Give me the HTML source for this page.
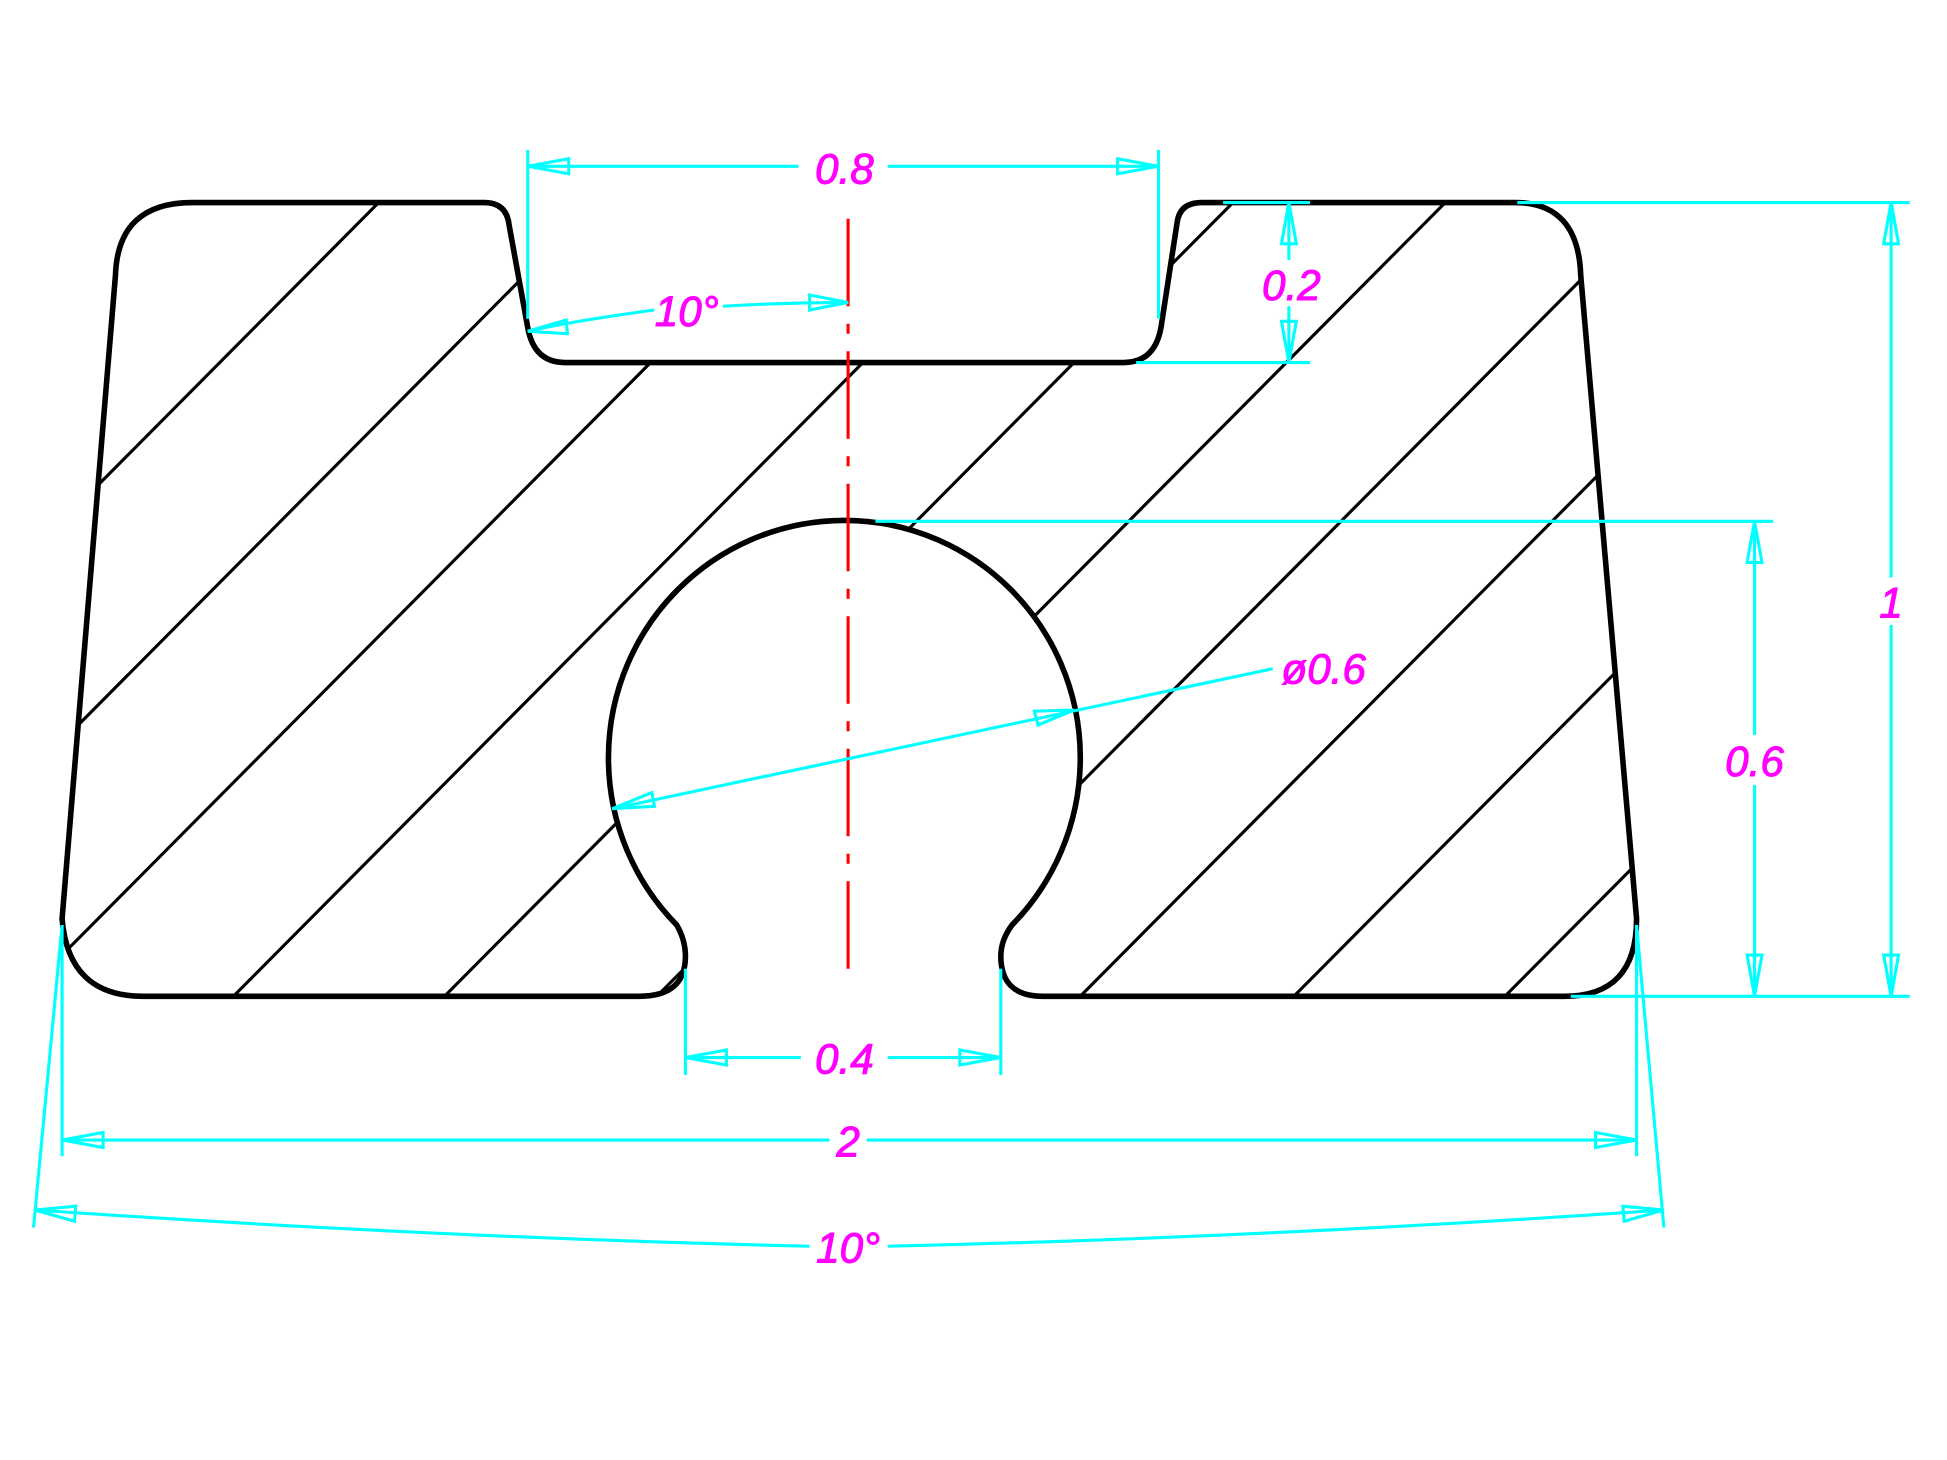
<!DOCTYPE html>
<html><head><meta charset="utf-8"><style>
html,body{margin:0;padding:0;background:#fff;width:1947px;height:1460px;overflow:hidden;position:relative;}
svg{display:block;position:absolute;left:0;top:0;}
text{font-family:"Liberation Sans",sans-serif;font-style:italic;fill:#ff00ff;stroke:#ff00ff;stroke-width:0.8;font-size:34px;text-anchor:middle;}
</style></head><body>
<svg width="1947" height="1460" viewBox="0 0 1568 1168" preserveAspectRatio="none" xmlns="http://www.w3.org/2000/svg">
<defs>
<clipPath id="cp"><path id="sh" d="M115 797 L515 797 Q552 797 552 765 Q552 752 545 740 A190 190 0 1 1 815 740 Q806 752 806 765 Q806 797 840 797 L1260 797 Q1318 797 1318 735 L1273 220 Q1271 162 1220 162 L968 162 Q950 162 948 178 L935 262 Q930 290 905 290 L455 290 Q430 290 425 262 L410 180 Q408 162 390 162 L155 162 Q95 162 93 220 L50 735 Q55 797 115 797 Z"/></clipPath>
</defs>
<g clip-path="url(#cp)" stroke="#000" stroke-width="2.5">
<line x1="-100" y1="567" x2="567" y2="-100"/>
<line x1="-100" y1="743" x2="743" y2="-100"/>
<line x1="-100" y1="914" x2="914" y2="-100"/>
<line x1="-100" y1="1085" x2="1085" y2="-100"/>
<line x1="-100" y1="1255" x2="1255" y2="-100"/>
<line x1="-100" y1="1426" x2="1426" y2="-100"/>
<line x1="-100" y1="1597" x2="1597" y2="-100"/>
<line x1="-100" y1="1767" x2="1767" y2="-100"/>
<line x1="-100" y1="1939" x2="1939" y2="-100"/>
<line x1="-100" y1="2109" x2="2109" y2="-100"/>
</g>
<use href="#sh" fill="none" stroke="#000" stroke-width="4.5"/>
<line x1="683" y1="175" x2="683" y2="775" stroke="#ff0000" stroke-width="2.5" stroke-dasharray="70,14,8,14"/>
<g stroke="#00ffff" stroke-width="2.5" fill="none">
<line x1="425" y1="120" x2="425" y2="255"/><line x1="933" y1="120" x2="933" y2="255"/>
<line x1="425" y1="133" x2="643" y2="133"/><line x1="715" y1="133" x2="933" y2="133"/>
<polygon points="425,133 458,127 458,139"/><polygon points="933,133 900,127 900,139"/>
<path d="M425 265 Q460 257 527 248"/><path d="M582 245 Q630 242 683 242"/>
<polygon points="425,265 456,256 457,267"/><polygon points="683,242 652,236 652,248"/>
<line x1="985" y1="162" x2="1055" y2="162"/><line x1="915" y1="290" x2="1055" y2="290"/>
<line x1="1038" y1="162" x2="1038" y2="208"/><line x1="1038" y1="245" x2="1038" y2="290"/>
<polygon points="1038,162 1032,195 1044,195"/><polygon points="1038,290 1032,257 1044,257"/>
<line x1="1222" y1="162" x2="1538" y2="162"/><line x1="1265" y1="797" x2="1538" y2="797"/>
<line x1="1523" y1="162" x2="1523" y2="462"/><line x1="1523" y1="500" x2="1523" y2="797"/>
<polygon points="1523,162 1517,195 1529,195"/><polygon points="1523,797 1517,764 1529,764"/>
<line x1="705" y1="417" x2="1428" y2="417"/>
<line x1="1413" y1="417" x2="1413" y2="588"/><line x1="1413" y1="628" x2="1413" y2="797"/>
<polygon points="1413,417 1407,450 1419,450"/><polygon points="1413,797 1407,764 1419,764"/>
<line x1="493" y1="647" x2="1025" y2="535"/>
<polygon points="493,647 525,634 527,645"/><polygon points="865,568 833,569 836,580"/>
<line x1="552" y1="775" x2="552" y2="860"/><line x1="806" y1="775" x2="806" y2="860"/>
<line x1="552" y1="846" x2="645" y2="846"/><line x1="715" y1="846" x2="806" y2="846"/>
<polygon points="552,846 585,840 585,852"/><polygon points="806,846 773,840 773,852"/>
<line x1="50" y1="740" x2="50" y2="925"/><line x1="1318" y1="740" x2="1318" y2="925"/>
<line x1="50" y1="912" x2="668" y2="912"/><line x1="698" y1="912" x2="1318" y2="912"/>
<polygon points="50,912 83,906 83,918"/><polygon points="1318,912 1285,906 1285,918"/>
<line x1="50" y1="740" x2="27" y2="982"/><line x1="1318" y1="740" x2="1340" y2="982"/>
<path d="M28 968 Q350 990 652 997"/><path d="M715 997 Q1020 990 1340 968"/>
<polygon points="28,968 61,965 60,977"/><polygon points="1340,968 1307,965 1308,977"/>
</g>
<text x="680" y="147">0.8</text>
<text x="553" y="261">10°</text>
<text x="1040" y="240">0.2</text>
<text x="1523" y="494">1</text>
<text x="1413" y="621">0.6</text>
<text x="1066" y="547">ø0.6</text>
<text x="680" y="859">0.4</text>
<text x="683" y="925">2</text>
<text x="683" y="1010">10°</text>
</svg>
</body></html>
